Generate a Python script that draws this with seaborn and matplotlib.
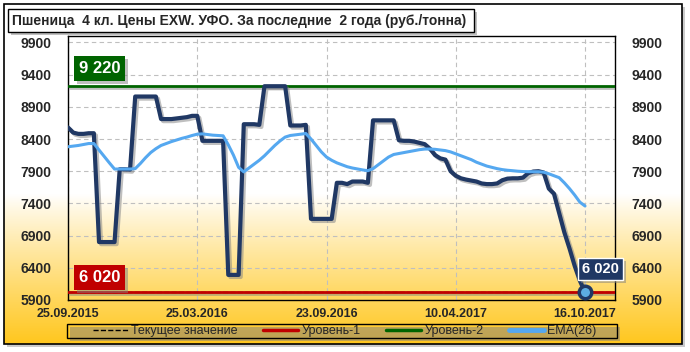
import numpy as np
import pandas as pd
import seaborn as sns
import matplotlib.pyplot as plt
import matplotlib.patheffects as pe
from matplotlib.patches import Rectangle
from matplotlib.lines import Line2D

# weekly EXW price, rub/t
price = [8580, 8500, 8480, 8480, 8490, 8490, 6800, 6800, 6800, 6800,
         7930, 7930, 7925, 9060, 9060, 9060, 9060, 9060, 8710, 8710,
         8710, 8720, 8730, 8740, 8760, 8760, 8372, 8372, 8372, 8372,
         8372, 6290, 6290, 6290, 8630, 8630, 8630, 8620, 9220, 9220,
         9220, 9220, 9220, 8610, 8610, 8610, 8620, 7160, 7160, 7160,
         7160, 7160, 7720, 7720, 7700, 7740, 7740, 7740, 7720, 8690,
         8690, 8690, 8690, 8690, 8380, 8372, 8372, 8360, 8340, 8320,
         8250, 8150, 8100, 8080, 7900, 7830, 7790, 7770, 7755, 7740,
         7710, 7700, 7700, 7710, 7760, 7785, 7790, 7790, 7800, 7870,
         7895, 7900, 7880, 7630, 7550, 7250, 6950, 6700, 6430, 6200,
         6020]
ema = [8280, 8290, 8300, 8315, 8330, 8330, 8230, 8130, 8030, 7934,
       7934, 7934, 7934, 7940, 8020, 8110, 8190, 8250, 8300, 8330,
       8360, 8385, 8410, 8430, 8455, 8475, 8480, 8470, 8460, 8455,
       8450, 8310, 8150, 7960, 7890, 7950, 8010, 8070, 8140, 8220,
       8300, 8370, 8430, 8455, 8465, 8475, 8486, 8400, 8300, 8200,
       8120, 8070, 8030, 8000, 7970, 7950, 7935, 7920, 7908, 7940,
       8000, 8060, 8120, 8160, 8175, 8190, 8205, 8220, 8235, 8244,
       8245, 8240, 8230, 8220, 8200, 8170, 8140, 8110, 8080, 8040,
       8010, 7980, 7960, 7940, 7925, 7915, 7908, 7900, 7895, 7893,
       7892, 7892, 7885, 7860, 7830, 7800, 7720, 7630, 7530, 7420,
       7360]
tick_pos = [0, 25, 50, 75, 100]
tick_labels = ['25.09.2015', '25.03.2016', '23.09.2016', '10.04.2017', '16.10.2017']
y_ticks = [5900, 6400, 6900, 7400, 7900, 8400, 8900, 9400, 9900]
level_1 = 6020
level_2 = 9220
current = price[-1]
title = 'Пшеница  4 кл. Цены EXW. УФО. За последние  2 года (руб./тонна)'
legend_labels = ['Текущее значение', 'Уровень-1', 'Уровень-2', 'EMA(26)']

NAVY = '#203864'
BLUE = '#55A8F0'
GREEN = '#006400'
RED = '#C00000'

sns.set_style('white')
plt.rcParams['font.family'] = ['Liberation Sans', 'DejaVu Sans']

df = pd.DataFrame({'week': np.arange(len(price)), 'price': price, 'ema': ema})

fig = plt.figure(figsize=(6.9, 3.52), dpi=100)

# background layer in pixel coords
bg = fig.add_axes([0, 0, 1, 1])
bg.set_xlim(0, 690)
bg.set_ylim(352, 0)
bg.axis('off')

bg.add_patch(Rectangle((7, 7), 678, 340, fc='#999999', ec='none', alpha=0.5))
t = np.linspace(0, 1, 300)
w = np.clip((t - 0.56) / 0.44, 0, 1) ** 0.9
top = np.array([1.0, 1.0, 1.0])
bot = np.array([1.0, 0.78, 0.12])
grad = (1 - w)[:, None] * top + w[:, None] * bot
bg.imshow(grad[:, None, :], extent=(4, 682, 344, 4), aspect='auto', zorder=1)
bg.add_patch(Rectangle((4, 4), 678, 340, fill=False, ec='black', lw=1.2, zorder=2))

# title box
box_shadow = [pe.withSimplePatchShadow(offset=(2, -2), shadow_rgbFace='gray', alpha=0.5)]
bg.add_patch(Rectangle((8, 9), 466, 23, fc='white', ec='black', lw=1, zorder=3,
                       path_effects=box_shadow))
bg.text(12, 20.5, title, fontsize=10, fontweight='bold', va='center', ha='left', zorder=4)

# legend frame
bg.add_patch(Rectangle((67, 324), 550, 14, fill=False, ec='black', lw=1, zorder=3,
                       path_effects=box_shadow))

# main chart
ax = fig.add_axes([68 / 690, 52 / 352, 547 / 690, 264 / 352])
ax.patch.set_alpha(0)

line_shadow = [pe.SimpleLineShadow(offset=(1.5, -1.5), shadow_color='gray', alpha=0.5), pe.Normal()]

ax.axhline(current, color='black', ls='--', lw=1, zorder=2)
ax.axhline(level_2, color=GREEN, lw=2, zorder=3, path_effects=line_shadow)
sns.lineplot(data=df, x='week', y='price', color=NAVY, lw=3, ax=ax, zorder=4,
             path_effects=line_shadow)
sns.lineplot(data=df, x='week', y='ema', color=BLUE, lw=2.2, ax=ax, zorder=5)
ax.axhline(level_1, color=RED, lw=2, zorder=6, path_effects=line_shadow)
ax.plot(df['week'].iloc[-1], current, 'o', ms=9, mfc='#5DADE2', mec=NAVY, mew=2.5, zorder=7)

ax.set_xlim(0, 105.8)
ax.set_ylim(5900, 10000)
ax.set_xticks(tick_pos, tick_labels)
ax.set_yticks(y_ticks)
ax.set_xlabel('')
ax.set_ylabel('')
ax.grid(True, color='#BFBFBF', ls=(0, (4, 3)), lw=0.8)
ax.tick_params(axis='x', length=0, pad=6, labelsize=9)
ax.tick_params(axis='y', length=0, pad=12, labelsize=10, labelleft=True, labelright=True)
for lab in ax.get_xticklabels():
    lab.set_fontweight('bold')
for tk in ax.yaxis.get_major_ticks():
    tk.label1.set_fontweight('bold')
    tk.label2.set_fontweight('bold')
for sp in ax.spines.values():
    sp.set_color('black')
    sp.set_linewidth(1)

# level / value labels
def boxed(x, y, txt, fc, ec='none', size=12, pad=0.3):
    tx = ax.text(x, y, txt, transform=ax.transAxes, ha='center', va='center', color='white',
                 fontsize=size, fontweight='bold', zorder=8,
                 bbox=dict(boxstyle=f'square,pad={pad}', fc=fc, ec=ec, lw=1))
    tx.get_bbox_patch().set_path_effects(box_shadow)

boxed(0.058, 0.877, '9 220', GREEN)
boxed(0.058, 0.085, '6 020', RED)
boxed(0.974, 0.117, '6 020', NAVY, ec='white', size=10.5, pad=0.28)

handles = [Line2D([], [], color='black', ls='--', lw=1),
           Line2D([], [], color=RED, lw=2.5),
           Line2D([], [], color=GREEN, lw=2.5),
           Line2D([], [], color=BLUE, lw=3.5)]
fig.legend(handles, legend_labels, loc='center', bbox_to_anchor=(344.5 / 690, 1 - 331 / 352),
           ncol=4, frameon=False, fontsize=9, handlelength=2.8, columnspacing=2.0,
           handletextpad=0.3)

fig.savefig('out.png', dpi=100)
